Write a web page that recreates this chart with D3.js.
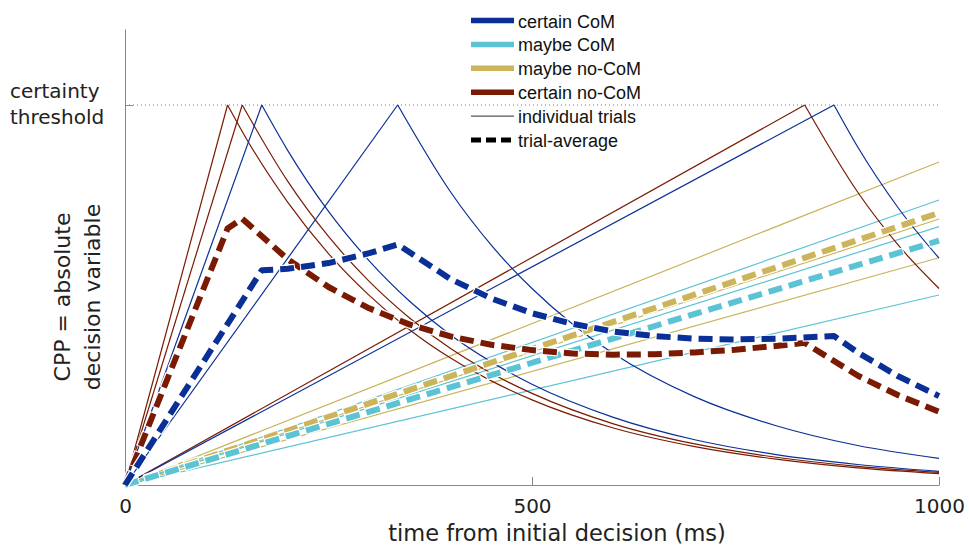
<!DOCTYPE html>
<html lang="en">
<head>
    <meta charset="UTF-8">
    <script src="https://d3js.org/d3.v7.min.js"></script>
    <style>
        body { margin: 0; background: #fff; }
        .tick-label, .axis-title { font-family: "DejaVu Sans", Verdana, sans-serif; fill: #222; }
        .legend text { font-family: "Liberation Sans", Arial, sans-serif; font-size: 18px; fill: #111; }
    </style>
    <title>CPP trajectories</title>
</head>
<body>
<script>
    // chart size
    const width = 969;
    const height = 546;

    // series colours
    const colors = {
        certainCoM: "#0a2f96",
        maybeCoM: "#5bc3d4",
        maybeNoCoM: "#cbb45a",
        certainNoCoM: "#7a1a02"
    };

    // individual trials: [time (ms), |DV|], rise to peak then decay
    const certainCoMTrials = [
        [[0, 0], [168, 1], [200, 0.88], [250, 0.72], [300, 0.59], [350, 0.483], [400, 0.395], [450, 0.324], [500, 0.265], [600, 0.178], [700, 0.119], [800, 0.08], [900, 0.054], [1000, 0.036]],
        [[0, 0], [335, 1], [400, 0.771], [450, 0.631], [500, 0.517], [550, 0.423], [600, 0.346], [700, 0.232], [800, 0.156], [900, 0.104], [1000, 0.07]],
        [[0, 0], [871, 1], [900, 0.89], [950, 0.729], [1000, 0.597]]
    ];
    const certainNoCoMTrials = [
        [[0, 0], [126, 1], [150, 0.908], [200, 0.744], [250, 0.609], [300, 0.499], [350, 0.408], [400, 0.334], [450, 0.274], [500, 0.224], [600, 0.15], [700, 0.101], [800, 0.068], [900, 0.045], [1000, 0.03]],
        [[0, 0], [144, 1], [200, 0.799], [250, 0.654], [300, 0.536], [350, 0.439], [400, 0.359], [450, 0.294], [500, 0.241], [600, 0.161], [700, 0.108], [800, 0.073], [900, 0.049], [1000, 0.033]],
        [[0, 0], [835, 1], [900, 0.771], [950, 0.631], [1000, 0.517]]
    ];
    const maybeCoMTrials = [
        [[0, 0], [1000, 0.75]],
        [[0, 0], [1000, 0.68]],
        [[0, 0], [1000, 0.5]]
    ];
    const maybeNoCoMTrials = [
        [[0, 0], [1000, 0.85]],
        [[0, 0], [1000, 0.7]],
        [[0, 0], [1000, 0.598]]
    ];

    // trial averages
    const certainCoMAvg = [[0, 0], [168, 0.565], [200, 0.569], [250, 0.584], [300, 0.61], [335, 0.633], [400, 0.542], [450, 0.491], [500, 0.452], [550, 0.424], [600, 0.404], [650, 0.392], [700, 0.385], [750, 0.383], [800, 0.385], [871, 0.392], [900, 0.349], [950, 0.286], [1000, 0.234]];
    const certainNoCoMAvg = [[0, 0], [126, 0.675], [144, 0.701], [200, 0.594], [250, 0.521], [300, 0.465], [350, 0.422], [400, 0.391], [450, 0.369], [500, 0.355], [550, 0.346], [600, 0.343], [650, 0.344], [700, 0.349], [750, 0.356], [800, 0.366], [835, 0.374], [900, 0.288], [950, 0.236], [1000, 0.193]];
    const maybeCoMAvg = [[0, 0], [1000, 0.643]];
    const maybeNoCoMAvg = [[0, 0], [1000, 0.716]];

    const xTicks = [0, 500, 1000];
    const threshold = 1;

    const legendItems = [
        { label: "certain CoM", color: colors.certainCoM, kind: "thick" },
        { label: "maybe CoM", color: colors.maybeCoM, kind: "thick" },
        { label: "maybe no-CoM", color: colors.maybeNoCoM, kind: "thick" },
        { label: "certain no-CoM", color: colors.certainNoCoM, kind: "thick" },
        { label: "individual trials", color: "#555", kind: "thin" },
        { label: "trial-average", color: "#000", kind: "dash" }
    ];

    const svg = d3.select("body")
        .append("svg")
        .attr("width", width)
        .attr("height", height);

    const x = d3.scaleLinear().domain([0, 1000]).range([125, 939]);
    const y = d3.scaleLinear().domain([0, 1.2]).range([485, 29]);

    // threshold dotted line
    svg.append("line")
        .attr("x1", x(0)).attr("x2", x(1000))
        .attr("y1", y(threshold)).attr("y2", y(threshold))
        .attr("stroke", "#777").attr("stroke-width", 1)
        .attr("stroke-dasharray", "1,3");

    // axes
    const xAxis = svg.append("g")
        .attr("transform", `translate(0,${y(0)})`)
        .call(d3.axisBottom(x).tickValues(xTicks).tickFormat(d3.format("d"))
            .tickSizeInner(-8).tickSizeOuter(0).tickPadding(14));
    xAxis.select(".domain").attr("stroke", "#888");
    xAxis.selectAll(".tick line").attr("stroke", "#888");
    xAxis.selectAll(".tick text")
        .attr("class", "tick-label")
        .attr("font-size", 20)
        .attr("dy", "0.71em");

    const yAxis = svg.append("g")
        .attr("transform", `translate(${x(0)},0)`)
        .call(d3.axisLeft(y).tickValues([threshold]).tickSizeInner(-8).tickSizeOuter(0).tickFormat(""));
    yAxis.select(".domain").attr("stroke", "#888");
    yAxis.selectAll(".tick line").attr("stroke", "#888");

    // y tick label in two lines
    const thrLabel = svg.append("text")
        .attr("class", "tick-label")
        .attr("font-size", 20)
        .attr("x", 10)
        .attr("y", 98);
    thrLabel.append("tspan").attr("x", 10).text("certainty");
    thrLabel.append("tspan").attr("x", 10).attr("dy", 26).text("threshold");

    // axis titles
    svg.append("text")
        .attr("class", "axis-title")
        .attr("font-size", 22.5)
        .attr("text-anchor", "middle")
        .attr("x", 557)
        .attr("y", 541)
        .text("time from initial decision (ms)");

    const yTitle = svg.append("text")
        .attr("class", "axis-title")
        .attr("font-size", 22)
        .attr("text-anchor", "middle")
        .attr("transform", "translate(70,297) rotate(-90)");
    yTitle.append("tspan").attr("x", 0).attr("y", 0).text("CPP = absolute");
    yTitle.append("tspan").attr("x", 0).attr("y", 30).text("decision variable");

    const straight = d3.line().x(d => x(d[0])).y(d => y(d[1]));
    const smooth = d3.line().x(d => x(d[0])).y(d => y(d[1])).curve(d3.curveMonotoneX);

    // individual trials: straight rise, smooth decay
    function drawTrials(trials, color) {
        const g = svg.append("g");
        trials.forEach(pts => {
            g.append("path")
                .attr("d", straight(pts.slice(0, 2)))
                .attr("fill", "none").attr("stroke", color).attr("stroke-width", 1.2);
            if (pts.length > 2) {
                g.append("path")
                    .attr("d", smooth(pts.slice(1)))
                    .attr("fill", "none").attr("stroke", color).attr("stroke-width", 1.2);
            }
        });
    }
    drawTrials(maybeNoCoMTrials, colors.maybeNoCoM);
    drawTrials(maybeCoMTrials, colors.maybeCoM);
    drawTrials(certainNoCoMTrials, colors.certainNoCoM);
    drawTrials(certainCoMTrials, colors.certainCoM);

    // trial averages, dashed with a thin white edge
    function drawAverage(pts, color) {
        svg.append("path")
            .attr("d", straight(pts))
            .attr("fill", "none").attr("stroke", "#fff").attr("stroke-width", 8.5)
            .attr("stroke-dasharray", "16,5").attr("stroke-dashoffset", 1)
            .attr("stroke-linejoin", "round");
        svg.append("path")
            .attr("d", straight(pts))
            .attr("fill", "none").attr("stroke", color).attr("stroke-width", 6)
            .attr("stroke-dasharray", "14,7")
            .attr("stroke-linejoin", "round");
    }
    drawAverage(maybeNoCoMAvg, colors.maybeNoCoM);
    drawAverage(maybeCoMAvg, colors.maybeCoM);
    drawAverage(certainNoCoMAvg, colors.certainNoCoM);
    drawAverage(certainCoMAvg, colors.certainCoM);

    // legend
    const legend = svg.append("g").attr("class", "legend");
    legendItems.forEach((d, i) => {
        const cy = 20.5 + i * 23.9;
        const line = legend.append("line")
            .attr("x1", 471).attr("x2", 514)
            .attr("y1", cy).attr("y2", cy)
            .attr("stroke", d.color);
        if (d.kind === "thick") line.attr("stroke-width", 5.5);
        if (d.kind === "thin") line.attr("stroke-width", 1.2);
        if (d.kind === "dash") line.attr("stroke-width", 5).attr("stroke-dasharray", "10,5");
        legend.append("text")
            .attr("x", 518)
            .attr("y", cy + 7)
            .text(d.label);
    });
</script>
</body>
</html>
